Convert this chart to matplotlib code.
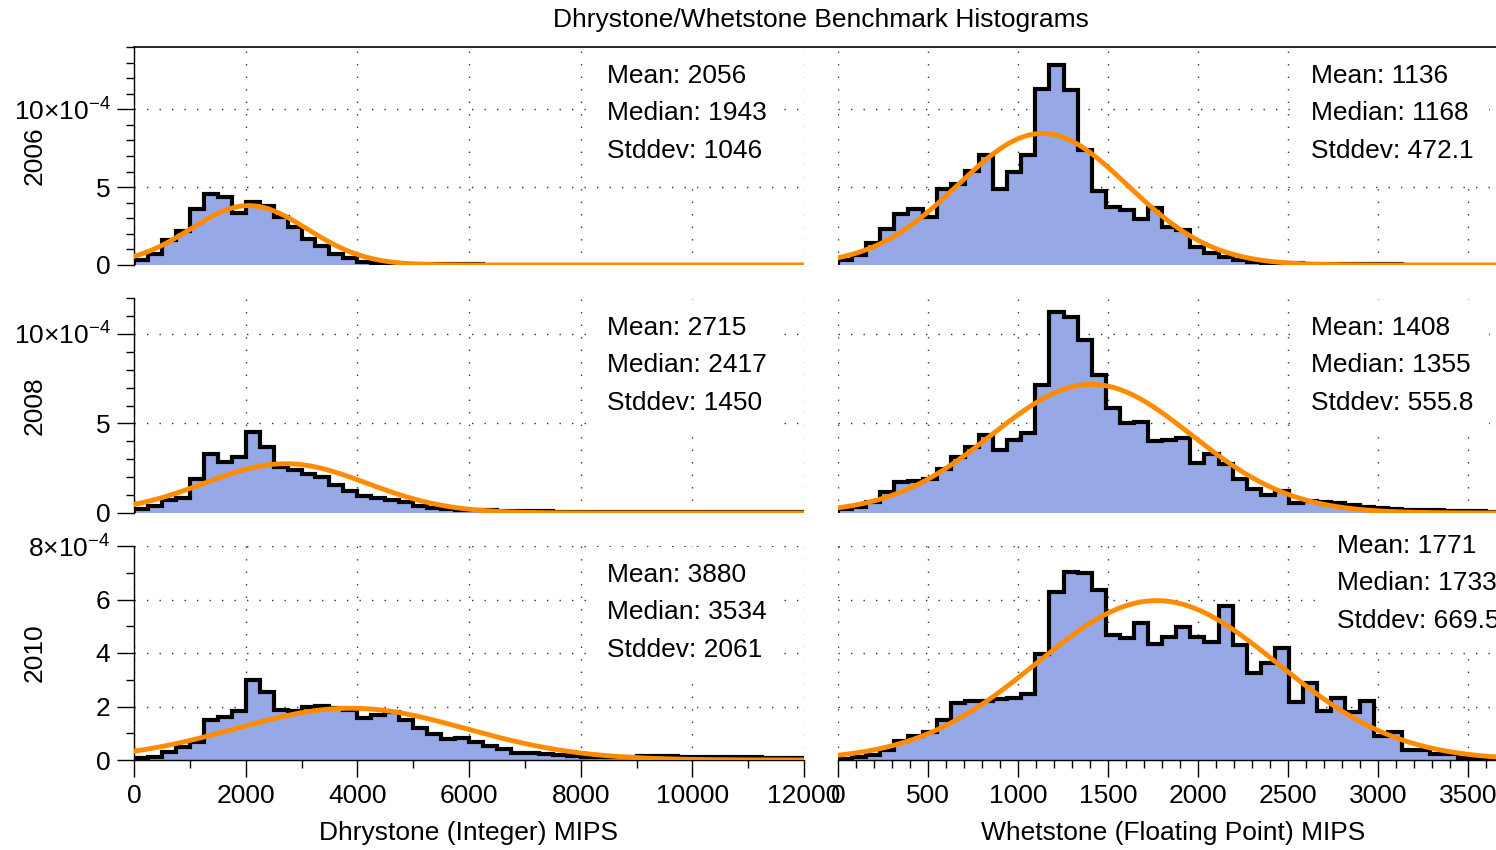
import numpy as np
import matplotlib.pyplot as plt
from matplotlib.ticker import MultipleLocator, FuncFormatter
from matplotlib.lines import Line2D

plt.rcParams['font.family'] = ['Liberation Sans', 'DejaVu Sans']
plt.rcParams['mathtext.fontset'] = 'custom'
plt.rcParams['mathtext.rm'] = 'Liberation Sans'
plt.rcParams['mathtext.it'] = 'Liberation Sans:italic'

# ---- data (histogram densities in units of 1e-4) ----
years = ['2006', '2008', '2010']
dhry_bin = 250.0
whet_bin = 78.3

dhry_2006 = [0.3, 0.7, 1.6, 2.2, 3.6, 4.55, 4.35, 3.35, 4.05, 3.8, 3.1, 2.45,
             1.7, 1.2, 0.7, 0.45, 0.2, 0.12, 0.08, 0.06, 0.05, 0.05, 0.04, 0.04,
             0.04, 0.03, 0.03, 0.03, 0.03, 0.03, 0.02, 0.02, 0.02, 0.02, 0.02, 0.02,
             0.02, 0.02, 0.02, 0.01, 0.01, 0.01, 0.01, 0.01, 0.01, 0.01, 0.01, 0.01]
dhry_2008 = [0.22, 0.41, 0.75, 0.85, 1.87, 3.28, 2.85, 3.13, 4.53, 3.69, 2.57, 2.38,
             2.19, 2.0, 1.54, 1.25, 0.97, 0.82, 0.73, 0.6, 0.37, 0.26, 0.22, 0.19,
             0.16, 0.14, 0.12, 0.1, 0.1, 0.09, 0.08, 0.08, 0.07, 0.07, 0.06, 0.06,
             0.06, 0.05, 0.05, 0.05, 0.05, 0.04, 0.04, 0.04, 0.04, 0.04, 0.03, 0.03]
dhry_2010 = [0.06, 0.12, 0.31, 0.5, 0.69, 1.48, 1.62, 1.84, 3.0, 2.56, 1.87, 1.84,
             1.97, 2.02, 1.96, 1.87, 1.56, 1.69, 1.81, 1.5, 1.19, 0.97, 0.79, 0.81,
             0.69, 0.52, 0.4, 0.27, 0.25, 0.22, 0.19, 0.15, 0.12, 0.1, 0.1, 0.12,
             0.16, 0.16, 0.15, 0.13, 0.1, 0.1, 0.1, 0.12, 0.1, 0.09, 0.08, 0.08]

whet_2006 = [0.32, 0.64, 1.43, 2.29, 3.25, 3.57, 3.1, 4.85, 5.19, 6.03, 7.09, 4.85,
             5.98, 7.05, 11.3, 12.86, 11.26, 7.37, 4.74, 3.74, 3.53, 2.95, 3.68, 2.46,
             2.24, 1.18, 0.75, 0.53, 0.32, 0.21, 0.15, 0.12, 0.1, 0.08, 0.07, 0.06,
             0.05, 0.05, 0.04, 0.04, 0.03, 0.03, 0.03, 0.02, 0.02, 0.02, 0.02, 0.01]
whet_2008 = [0.22, 0.32, 0.6, 1.16, 1.72, 1.78, 1.87, 2.47, 3.13, 3.69, 4.38, 3.5,
             4.06, 4.44, 7.15, 11.24, 10.94, 9.63, 7.68, 5.84, 5.0, 5.09, 4.0, 4.06,
             4.19, 2.81, 3.28, 2.72, 1.91, 1.35, 1.01, 1.22, 0.54, 0.66, 0.6, 0.58,
             0.45, 0.36, 0.26, 0.22, 0.19, 0.17, 0.15, 0.13, 0.12, 0.1, 0.08, 0.07]
whet_2010 = [0.05, 0.1, 0.19, 0.37, 0.71, 0.9, 1.05, 1.5, 2.12, 2.22, 2.22, 2.27,
             2.33, 2.47, 3.96, 6.29, 7.04, 6.98, 6.36, 4.67, 4.55, 5.13, 4.34, 4.61,
             4.96, 4.59, 4.42, 5.77, 4.3, 3.24, 3.61, 4.2, 2.18, 2.89, 1.83, 2.31,
             1.81, 2.22, 0.9, 1.06, 0.37, 0.37, 0.22, 0.21, 0.06, 0.06, 0.05, 0.04]

# mean, median, stddev
dhry_stats = [(2056, 1943, 1046), (2715, 2417, 1450), (3880, 3534, 2061)]
whet_stats = [(1136, 1168, 472.1), (1408, 1355, 555.8), (1771, 1733, 669.5)]

dhry_sets = [dhry_2006, dhry_2008, dhry_2010]
whet_sets = [whet_2006, whet_2008, whet_2010]

# ---- layout (pixels) ----
W, H = 1496, 850
def fx(px): return px / W
def fy(py): return 1 - py / H

rows = [(47, 265), (298, 513), (546, 760)]
cols = [(134, 804), (838, 1508)]
xlims = [12000, 3722]
ylims = [14, 12, 8]
ymaj = [5, 5, 2]
ytop = [10, 10, 8]
text_x = [[607, 1311], [607, 1311], [607, 1337]]
text_y = [[74, 74], [326, 326], [573, 544]]

fill_c = '#97a8e6'
orange = '#ff8c00'
FS = 19

fig = plt.figure(figsize=(W / 100, H / 100), dpi=100)


def make_fmt(top):
    def f(v, pos):
        n = int(round(v * 1e4))
        if n == top:
            return f"{n}×$10^{{-4}}$"
        return str(n)
    return FuncFormatter(f)


for r, (t, b) in enumerate(rows):
    for c, (x0, x1) in enumerate(cols):
        ax = fig.add_axes([fx(x0), fy(b), (x1 - x0) / W, (b - t) / H])
        vals = np.array(dhry_sets[r] if c == 0 else whet_sets[r]) * 1e-4
        bw = dhry_bin if c == 0 else whet_bin
        edges = np.arange(len(vals) + 1) * bw
        ax.stairs(vals, edges, fill=True, color=fill_c, zorder=2)
        ax.stairs(vals, edges, color='black', lw=3, zorder=3)

        mean, med, sd = dhry_stats[r] if c == 0 else whet_stats[r]
        xs = np.linspace(0, xlims[c], 500)
        pdf = np.exp(-0.5 * ((xs - mean) / sd) ** 2) / (sd * np.sqrt(2 * np.pi))
        ax.plot(xs, pdf, color=orange, lw=3.5, zorder=4)

        ax.set_xlim(0, xlims[c])
        ax.set_ylim(0, ylims[r] * 1e-4)
        ax.set_axisbelow(True)

        ax.xaxis.set_major_locator(MultipleLocator(2000 if c == 0 else 500))
        ax.xaxis.set_minor_locator(MultipleLocator(1000 if c == 0 else 100))
        ax.yaxis.set_major_locator(MultipleLocator(ymaj[r] * 1e-4))
        ax.yaxis.set_minor_locator(MultipleLocator(1e-4))
        ax.grid(True, which='major', color='#333333', lw=1, linestyle=(0, (1, 8)))

        for s in ax.spines.values():
            s.set_visible(False)
            s.set_linewidth(1)

        if c == 0:
            ax.spines['left'].set_visible(True)
            ax.yaxis.set_major_formatter(make_fmt(ytop[r]))
            ax.tick_params(axis='y', which='major', direction='out', length=12,
                           width=1, labelsize=FS, pad=5)
            ax.tick_params(axis='y', which='minor', direction='out', length=6, width=1)
        else:
            ax.tick_params(axis='y', which='both', left=False, labelleft=False)

        if r == 2:
            ax.spines['bottom'].set_visible(True)
            ax.tick_params(axis='x', which='major', direction='out', length=12,
                           width=1, labelsize=FS, pad=5)
            ax.tick_params(axis='x', which='minor', direction='out', length=6, width=1)
        else:
            ax.tick_params(axis='x', which='both', bottom=False, labelbottom=False)

        lines = [f"Mean: {mean:.4g}", f"Median: {med:.4g}", f"Stddev: {sd:.4g}"]
        fig.text(fx(text_x[r][c]), fy(text_y[r][c] - 10), "\n".join(lines),
                 ha='left', va='top', fontsize=FS, linespacing=1.7, zorder=5,
                 bbox=dict(boxstyle='square,pad=0.6', fc='white', ec='none'))

# top frame line across both upper panels
fig.add_artist(Line2D([fx(134), 1.0], [fy(47), fy(47)], color='black', lw=1.2, zorder=6))

for r, (t, b) in enumerate(rows):
    fig.text(fx(35), fy((t + b) / 2), years[r], rotation=90, ha='center',
             va='center', fontsize=FS)

fig.text(fx(821), fy(20), "Dhrystone/Whetstone Benchmark Histograms",
         ha='center', va='center', fontsize=FS)
fig.text(fx(469), fy(833), "Dhrystone (Integer) MIPS", ha='center', va='center', fontsize=FS)
fig.text(fx(1173), fy(833), "Whetstone (Floating Point) MIPS", ha='center', va='center', fontsize=FS)

fig.savefig('out.png', dpi=100)
